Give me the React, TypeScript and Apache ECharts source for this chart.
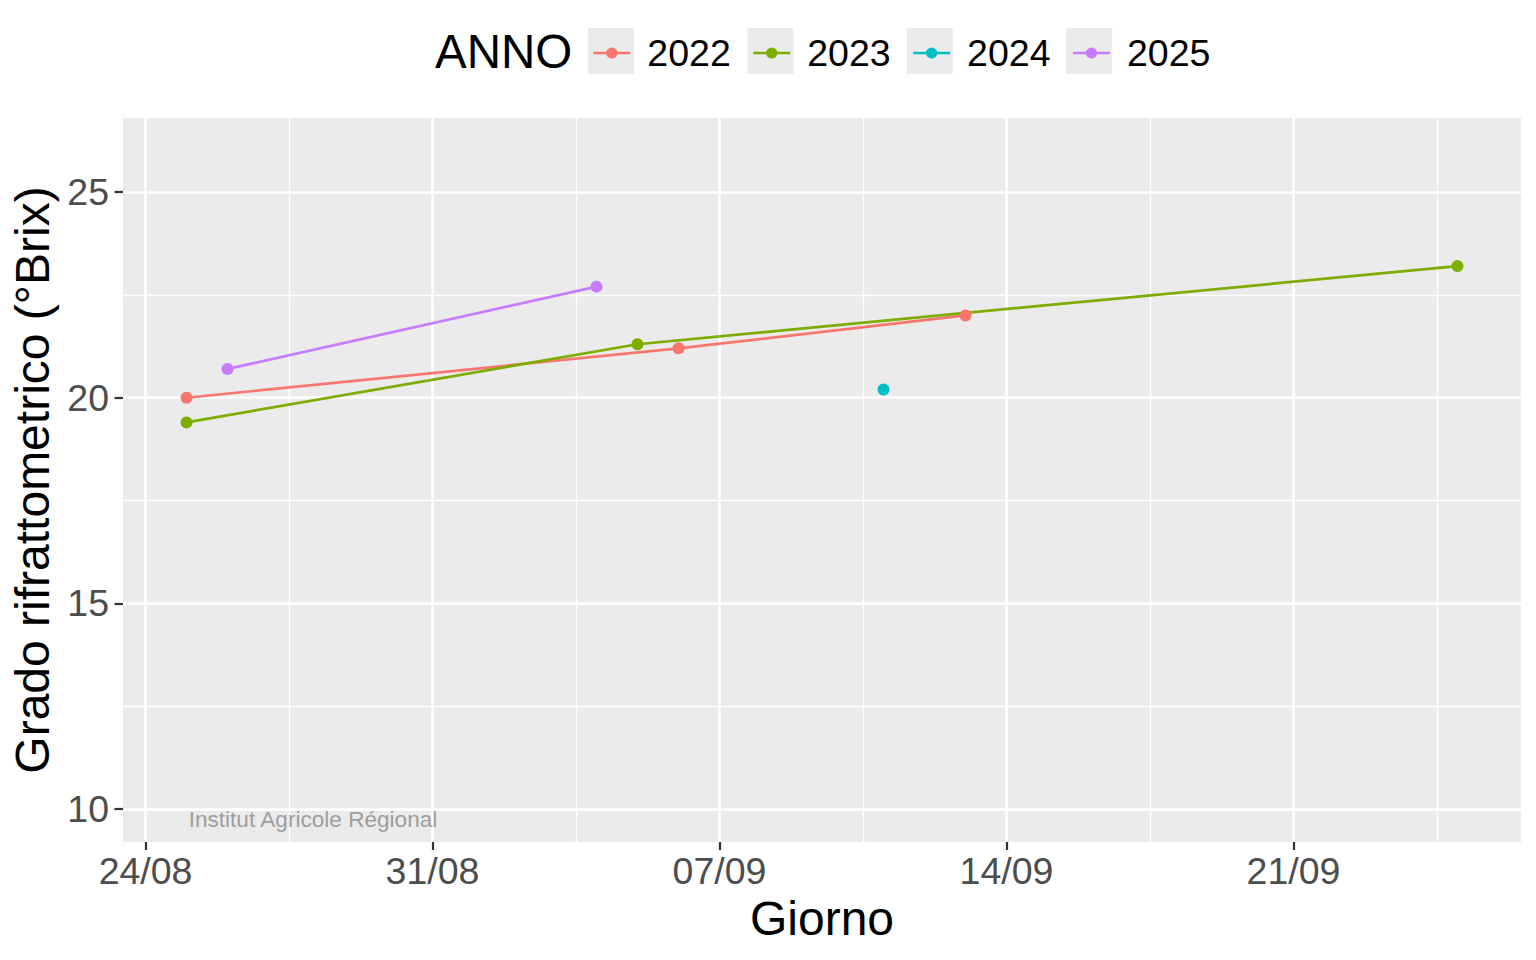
import React, { useEffect, useRef } from "react";
import * as echarts from "echarts";

const FONT = "Liberation Sans, Arial, Helvetica, sans-serif";

const years = ["2022", "2023", "2024", "2025"];
const colors = ["#F8766D", "#7CAE00", "#00BFC4", "#C77CFF"];

const days2022 = ["25/08", "06/09", "13/09"];
const brix2022 = [20.0, 21.2, 22.0];
const days2023 = ["25/08", "05/09", "25/09"];
const brix2023 = [19.4, 21.3, 23.2];
const days2024 = ["11/09"];
const brix2024 = [20.2];
const days2025 = ["26/08", "04/09"];
const brix2025 = [20.7, 22.7];

const originDate = "24/08";
const xTickLabels = ["24/08", "31/08", "07/09", "14/09", "21/09"];
const yTicks = [10, 15, 20, 25];
const yMinor = [12.5, 17.5, 22.5];
const yLimits = [10, 26];

function dayOf(s: string): number {
  const [d, m] = s.split("/").map(Number);
  const [od, om] = originDate.split("/").map(Number);
  return (Date.UTC(2001, m - 1, d) - Date.UTC(2001, om - 1, od)) / 86400000;
}

const seriesDefs = [
  { name: years[0], days: days2022, brix: brix2022 },
  { name: years[1], days: days2023, brix: brix2023 },
  { name: years[2], days: days2024, brix: brix2024 },
  { name: years[3], days: days2025, brix: brix2025 },
];

export default function App() {
  const ref = useRef<HTMLDivElement>(null);
  useEffect(() => {
    if (!ref.current) return;
    const chart = echarts.init(ref.current, undefined, { renderer: "svg" });

    const allDays = seriesDefs.flatMap((s) => s.days.map(dayOf));
    const dMin = Math.min(...allDays);
    const dMax = Math.max(...allDays);
    const xPad = (dMax - dMin) * 0.05;
    const xMin = dMin - xPad;
    const xMax = dMax + xPad;
    const yPad = (yLimits[1] - yLimits[0]) * 0.05;
    const yMin = yLimits[0] - yPad;
    const yMax = yLimits[1] + yPad;

    const xTicks = xTickLabels.map(dayOf);
    const xMinor = xTicks.map((v) => v + 3.5).filter((v) => v > xMin && v < xMax);

    const gridLines = [
      ...xMinor.map((v) => ({ xAxis: v, lineStyle: { width: 1.3 } })),
      ...yMinor.map((v) => ({ yAxis: v, lineStyle: { width: 1.3 } })),
      ...xTicks.map((v) => ({ xAxis: v, lineStyle: { width: 2.6 } })),
      ...yTicks.map((v) => ({ yAxis: v, lineStyle: { width: 2.6 } })),
    ];

    const legendLeft = 592;
    const itemW = 37;
    const textPad = 12;
    const textW = 84.3;
    const period = 159.4;

    chart.setOption({
      animation: false,
      textStyle: { fontFamily: FONT },
      grid: {
        left: 123,
        right: 15,
        top: 118,
        bottom: 118,
        show: true,
        backgroundColor: "#EBEBEB",
        borderWidth: 0,
        containLabel: false,
      },
      legend: {
        data: years,
        left: legendLeft,
        top: 34,
        padding: 0,
        itemWidth: itemW,
        itemHeight: 14,
        itemGap: period - (itemW + 5 + textPad + textW),
        selectedMode: false,
        lineStyle: { width: 2.7 },
        textStyle: {
          fontSize: 37.5,
          color: "#000000",
          fontFamily: FONT,
          padding: [0, 0, 0, textPad],
        },
      },
      xAxis: {
        type: "value",
        min: xMin,
        max: xMax,
        axisLine: { show: false, onZero: false },
        splitLine: { show: false },
        axisTick: {
          show: true,
          customValues: xTicks,
          length: 8,
          lineStyle: { color: "#333333", width: 2.2, opacity: 1 },
        },
        axisLabel: {
          customValues: xTicks,
          formatter: (v: number) => xTickLabels[xTicks.indexOf(Math.round(v))] ?? "",
          fontSize: 37.5,
          color: "#4D4D4D",
          margin: 10,
          fontFamily: FONT,
        },
        name: "Giorno",
        nameLocation: "middle",
        nameGap: 49,
        nameTextStyle: { fontSize: 48, color: "#000000", fontFamily: FONT },
      },
      yAxis: {
        type: "value",
        min: yMin,
        max: yMax,
        axisLine: { show: false, onZero: false },
        splitLine: { show: false },
        axisTick: {
          show: true,
          customValues: yTicks,
          length: 8.5,
          lineStyle: { color: "#333333", width: 2.2, opacity: 1 },
        },
        axisLabel: {
          customValues: yTicks,
          fontSize: 37.5,
          color: "#4D4D4D",
          margin: 14,
          fontFamily: FONT,
        },
        name: "Grado rifrattometrico (°Brix)",
        nameLocation: "middle",
        nameGap: 61,
        nameTextStyle: { fontSize: 48, color: "#000000", fontFamily: FONT },
      },
      graphic: [
        {
          type: "text",
          left: 435,
          top: 27,
          style: { text: "ANNO", fontSize: 47.5, fill: "#000000", fontFamily: FONT },
        },
        ...years.map((y, i) => ({
          type: "rect",
          shape: { x: legendLeft - 4 + i * period, y: 28, width: 46, height: 46 },
          style: { fill: "#EBEBEB" },
          z: 0,
        })),
        {
          type: "text",
          x: 313,
          y: 819,
          style: {
            text: "Institut Agricole Régional",
            fontSize: 22.6,
            fill: "#9E9E9E",
            fontFamily: FONT,
            align: "center",
            verticalAlign: "middle",
          },
          z: 10,
        },
      ],
      series: [
        {
          type: "line",
          name: "grid",
          data: [],
          silent: true,
          z: 1,
          markLine: {
            z: 1,
            silent: true,
            symbol: ["none", "none"],
            label: { show: false },
            lineStyle: { color: "#FFFFFF", type: "solid", opacity: 1 },
            emphasis: { disabled: true },
            data: gridLines,
          },
        },
        ...seriesDefs.map((s, i) => ({
          type: "line",
          name: s.name,
          data: s.days.map((d, j) => [dayOf(d), s.brix[j]]),
          symbol: "circle",
          symbolSize: 12,
          showSymbol: true,
          silent: true,
          z: 6,
          lineStyle: { width: 2.7, color: colors[i] },
          itemStyle: { color: colors[i] },
        })),
      ],
    });

    return () => chart.dispose();
  }, []);

  return (
    <div
      ref={ref}
      style={{ position: "absolute", left: 0, top: 0, width: 1536, height: 960, background: "#FFFFFF" }}
    />
  );
}
